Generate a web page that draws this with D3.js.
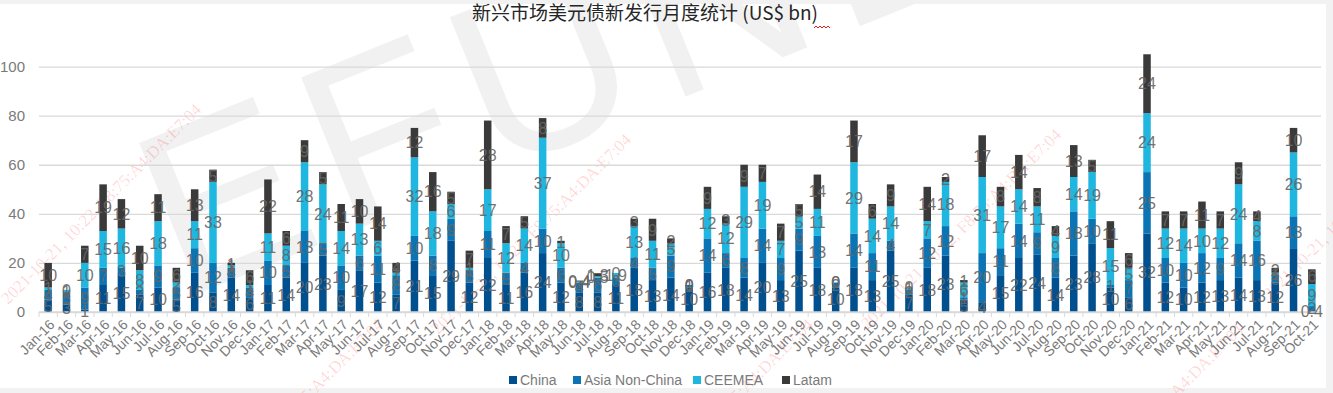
<!DOCTYPE html>
<html>
<head>
<meta charset="utf-8">
<script src="https://cdn.jsdelivr.net/npm/d3@7"></script>
<style>
  html, body { margin: 0; padding: 0; background: #f2f2f2; }
  svg { display: block; font-family: "Liberation Sans", Arial, sans-serif; }
</style>
</head>
<body>
<svg id="chart"></svg>
<script>
// months Jan-16 .. Oct-21
const months = ["Jan-16","Feb-16","Mar-16","Apr-16","May-16","Jun-16","Jul-16","Aug-16","Sep-16","Oct-16","Nov-16","Dec-16",
  "Jan-17","Feb-17","Mar-17","Apr-17","May-17","Jun-17","Jul-17","Aug-17","Sep-17","Oct-17","Nov-17","Dec-17",
  "Jan-18","Feb-18","Mar-18","Apr-18","May-18","Jun-18","Jul-18","Aug-18","Sep-18","Oct-18","Nov-18","Dec-18",
  "Jan-19","Feb-19","Mar-19","Apr-19","May-19","Jun-19","Jul-19","Aug-19","Sep-19","Oct-19","Nov-19","Dec-19",
  "Jan-20","Feb-20","Mar-20","Apr-20","May-20","Jun-20","Jul-20","Aug-20","Sep-20","Oct-20","Nov-20","Dec-20",
  "Jan-21","Feb-21","Mar-21","Apr-21","May-21","Jun-21","Jul-21","Aug-21","Sep-21","Oct-21"];

const china = [5,3,1,11,15,7,10,5,16,8,14,6,
  11,14,20,23,9,17,12,7,21,15,29,12,
  22,11,16,24,12,8,8,11,18,13,14,10,
  16,18,14,20,13,25,18,10,18,13,25,7,
  18,23,5,4,15,22,23.5,14,23,28,10,6,
  32,12,10,12,13,14,13,12,26,0.4];
const asiaNonChina = [4,5,9,7,3,2,9,5,10,12,4,4,
  10,5,13,5,10,6,11,8,10,8,9,5,
  11,5,4,10,6,4,6,3,4,5,9,1,
  14,6,8,14,9,9,13,2,14,11,4,2,
  12,12,1,20,11,14,9,8,18,10,1,7,
  25,10,10,12,9,14,16,3,13,2];
const ceemea = [1,1,10,15,16,8,18,2,11,33,1,1,
  11,8,28,24,14,13,6,1,32,18,6,1,
  17,12,14,37,10,0.4,0.5,1.9,13,11,5,0,
  12,12,29,19,7,5,11,0,29,14,14,1,
  7,18,6,31,17,14,10.5,9,14,19,15,5,
  24,12,14,10,12,24,8,1,26,9];
const latam = [10,0,7,19,12,10,11,6,13,5,1,6,
  22,6,9,5,11,10,14,4,12,16,5,7,
  28,7,5,8,1,0.4,1.3,0,3,9,2,0,
  9,3,9,7,7,5,14,0,17,6,9,0,
  14,2,1,17,8,14,7.5,4,13,5,11,6,
  24,7,7,11,7,9,4,2,10,6];

const seriesNames = ["China", "Asia Non-China", "CEEMEA", "Latam"];
const seriesColors = ["#00508f", "#0b74b4", "#1fb6e0", "#3a3a3a"];
const yTicks = [0, 20, 40, 60, 80, 100];
const title = "新兴市场美元债新发行月度统计 (US$ bn)";
const stampText = "2021-10-21, 10:22, F8:75:A4:DA:E7:04";

const width = 1333, height = 393;
const margin = { top: 42, right: 12, bottom: 81, left: 39 };

const svg = d3.select("#chart").attr("width", width).attr("height", height);

// white chart area
svg.append("rect").attr("x", 0).attr("y", 4).attr("width", 1326).attr("height", 384).attr("fill", "#ffffff");

// watermark
const wm = svg.append("g").attr("class", "watermark");
wm.append("text")
  .attr("transform", "translate(182,300) rotate(-22)")
  .attr("font-size", 235)
  .attr("letter-spacing", 18)
  .attr("fill", "#f1f1f1")
  .text("EFUND");
[[8, 305], [438, 335], [868, 330], [190, 520], [620, 520], [1050, 525], [1270, 300]].forEach(p => {
  wm.append("text")
    .attr("transform", `translate(${p[0]},${p[1]}) rotate(-45)`)
    .attr("font-family", "'Liberation Serif', 'DejaVu Serif', serif")
    .attr("font-size", 17)
    .attr("fill", "#ff0000")
    .attr("fill-opacity", 0.16)
    .text(stampText);
});

const data = months.map((m, i) => ({
  month: m, China: china[i], "Asia Non-China": asiaNonChina[i], CEEMEA: ceemea[i], Latam: latam[i]
}));
const stack = d3.stack().keys(seriesNames)(data);

const x = d3.scaleBand()
  .domain(months)
  .range([margin.left, width - margin.right])
  .paddingInner(0.59)
  .paddingOuter(0.295);

const y = d3.scaleLinear().domain([0, 110]).range([312, margin.top]);

// gridlines + y labels
svg.append("g")
  .attr("transform", `translate(${margin.left},0)`)
  .call(d3.axisLeft(y).tickValues(yTicks).tickSize(-(width - margin.right - margin.left)).tickPadding(14))
  .call(g => g.select(".domain").remove())
  .call(g => g.selectAll(".tick line").attr("stroke", "#d9d9d9").attr("stroke-width", 1.3))
  .call(g => g.selectAll(".tick text").attr("fill", "#7a7a7a").attr("font-size", 15));

// bars
const colorOf = d3.scaleOrdinal().domain(seriesNames).range(seriesColors);
svg.append("g").selectAll("g")
  .data(stack)
  .join("g")
  .attr("fill", d => colorOf(d.key))
  .selectAll("rect")
  .data(d => d)
  .join("rect")
  .attr("x", d => x(d.data.month))
  .attr("y", d => y(d[1]))
  .attr("width", x.bandwidth())
  .attr("height", d => y(d[0]) - y(d[1]));

// x axis with ticks between categories
const xAxisG = svg.append("g").attr("transform", `translate(0,${y(0)})`);
xAxisG.append("line")
  .attr("x1", margin.left).attr("x2", width - margin.right)
  .attr("stroke", "#d9d9d9").attr("stroke-width", 1.3);
xAxisG.selectAll("line.tk")
  .data(d3.range(months.length + 1))
  .join("line")
  .attr("class", "tk")
  .attr("x1", i => margin.left + i * x.step())
  .attr("x2", i => margin.left + i * x.step())
  .attr("y1", 0).attr("y2", 5)
  .attr("stroke", "#d9d9d9");
xAxisG.selectAll("text")
  .data(months)
  .join("text")
  .attr("transform", d => `translate(${x(d) + x.bandwidth() / 2 + 4},${10}) rotate(-45)`)
  .attr("text-anchor", "end")
  .attr("dy", "0.35em")
  .attr("font-size", 14)
  .attr("fill", "#7a7a7a")
  .text(d => d);

// data labels
const fmt = v => Number.isInteger(v) ? String(v) : (v < 2 ? v.toFixed(1) : String(Math.round(v)));
svg.append("g").selectAll("g")
  .data(stack)
  .join("g")
  .selectAll("text")
  .data(d => d)
  .join("text")
  .attr("x", d => x(d.data.month) + x.bandwidth() / 2)
  .attr("y", d => (y(d[0]) + y(d[1])) / 2)
  .attr("dy", "0.36em")
  .attr("text-anchor", "middle")
  .attr("font-size", 16)
  .attr("fill", "#666666")
  .attr("fill-opacity", 0.92)
  .text(d => fmt(d[1] - d[0]));

// title
svg.append("text")
  .attr("x", 645).attr("y", 20)
  .attr("text-anchor", "middle")
  .attr("font-family", "'Noto Sans CJK SC', 'Liberation Sans', sans-serif")
  .attr("font-size", 19)
  .attr("fill", "#262626")
  .text(title);
// spell-check squiggle under "bn"
svg.append("path")
  .attr("d", d3.range(0, 18, 2).map((dx, i) => `${i ? "L" : "M"}${814 + dx},${i % 2 ? 26 : 28}`).join(""))
  .attr("fill", "none").attr("stroke", "#e02020").attr("stroke-width", 1);

// legend
const legend = svg.append("g").attr("transform", "translate(0,380)");
const legendX = [509, 573, 693, 782];
seriesNames.forEach((name, i) => {
  legend.append("rect").attr("x", legendX[i]).attr("y", -4).attr("width", 8).attr("height", 8).attr("fill", seriesColors[i]);
  legend.append("text").attr("x", legendX[i] + 11).attr("y", 0).attr("dy", "0.35em")
    .attr("font-size", 14).attr("fill", "#7a7a7a").text(name);
});
</script>
</body>
</html>
